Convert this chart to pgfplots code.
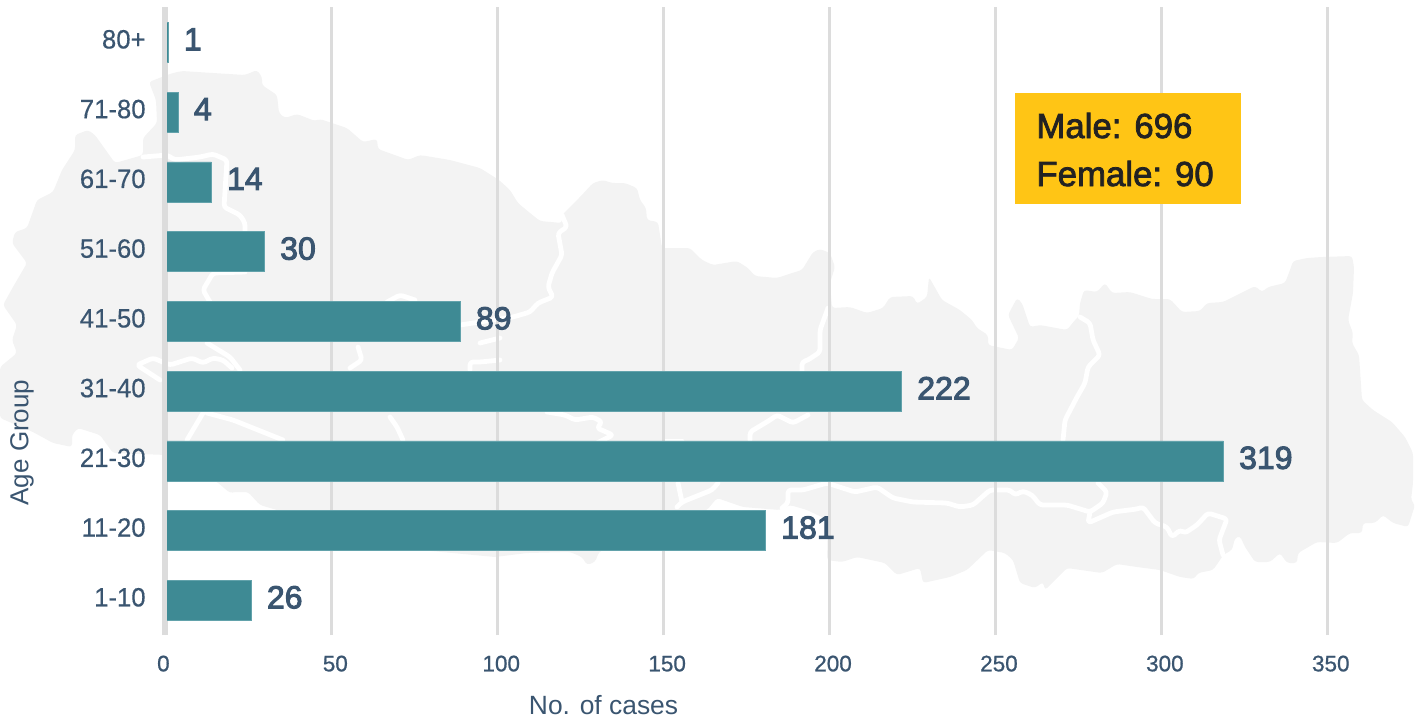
\documentclass[border=0pt]{standalone}
\usepackage{pgfplots}
\usepackage{pgfplotstable}
\pgfplotsset{compat=1.18}
\usepackage{fontspec}
\setmainfont{Liberation Sans}
\newfontfamily\medfont[FakeBold=3]{Liberation Sans}
\newfontfamily\lightmed[FakeBold=0.8]{Liberation Sans}
\newfontfamily\boxfont[FakeBold=2.2]{Liberation Sans}
\newfontfamily\ytickfont[FakeStretch=0.97,FakeBold=0.4]{Liberation Sans}
\definecolor{txt}{HTML}{3A5570}
\definecolor{barc}{HTML}{3E8A94}
\definecolor{barb}{HTML}{62A2AB}
\definecolor{gridc}{HTML}{DCDCDC}
\definecolor{mapc}{HTML}{F3F3F3}
\definecolor{boxc}{HTML}{FFC515}
\definecolor{boxt}{HTML}{222222}
\pgfplotstableread{
idx val
0 26
1 181
2 319
3 222
4 89
5 30
6 14
7 4
8 1
}\agedata
\begin{document}
\begin{tikzpicture}
\path[use as bounding box] (0,0) rectangle (711.5pt,-360pt);
\begin{scope}[x=0.5pt,y=-0.5pt,line join=round,line cap=round,rounded corners=1.5pt]
\fill[mapc] (149,82)--(167,75)--(173,73)--(182,71)--(213,73)--(245,75)--(257,70)--(262,77)--(262,85)--(277,95)--(279,113)--(285,118)--(297,114)--(315,121)--(320,119)--(347,128)--(363,142)--(377,139)--(378,149)--(403,158)--(408,160)--(420,155)--(450,160)--(480,168)--(499,180)--(510,190)--(518,203)--(530,213)--(540,221)--(562,223)--(562,215)--(580,197)--(593,183)--(603,180)--(612,183)--(625,183)--(637,188)--(640,200)--(646,208)--(647,220)--(658,222)--(662,248)--(677,248)--(690,248)--(702,260)--(713,265)--(737,261)--(748,268)--(755,276)--(777,278)--(792,273)--(802,270)--(813,252)--(820,249)--(830,253)--(835,267)--(830,283)--(832,308)--(850,307)--(867,313)--(883,308)--(890,297)--(913,296)--(917,304)--(927,297)--(929,277)--(942,300)--(960,310)--(972,320)--(977,328)--(988,335)--(988,345)--(1012,350)--(1019,338)--(1008,315)--(1017,298)--(1022,303)--(1030,327)--(1040,325)--(1067,330)--(1075,320)--(1079,316)--(1080,303)--(1084,290)--(1097,292)--(1105,283)--(1112,293)--(1130,292)--(1152,299)--(1170,299)--(1182,312)--(1200,311)--(1207,303)--(1223,302)--(1233,297)--(1255,286)--(1262,292)--(1268,287)--(1285,283)--(1290,270)--(1293,261)--(1307,258)--(1322,257)--(1352,256)--(1354,267)--(1353,293)--(1348,320)--(1353,333)--(1352,343)--(1359,355)--(1362,400)--(1373,410)--(1392,422)--(1405,437)--(1413,453)--(1413,483)--(1411,500)--(1415,505)--(1408,527)--(1393,523)--(1383,515)--(1375,523)--(1363,523)--(1362,533)--(1350,533)--(1337,543)--(1317,542)--(1298,553)--(1297,563)--(1287,563)--(1280,553)--(1270,562)--(1255,562)--(1245,547)--(1240,536)--(1235,538)--(1232,550)--(1223,555)--(1220,560)--(1213,570)--(1198,573)--(1194,579)--(1180,577)--(1160,570)--(1137,567)--(1117,564)--(1102,573)--(1067,568)--(1045,590)--(1043,582)--(1035,588)--(1020,583)--(1013,560)--(1005,553)--(988,550)--(967,570)--(950,577)--(923,583)--(920,568)--(897,575)--(885,563)--(857,557)--(842,562)--(827,560)--(828,520)--(807,510)--(790,505)--(780,510)--(743,507)--(717,498)--(707,510)--(640,530)--(599,552)--(595,562)--(587,565)--(582,557)--(570,552)--(527,553)--(495,557)--(400,548)--(277,510)--(260,505)--(248,492)--(235,492)--(230,493)--(217,482)--(167,455)--(113,453)--(100,435)--(78,428)--(72,435)--(72,447)--(53,443)--(33,432)--(0,418)--(0,367)--(17,353)--(12,340)--(17,325)--(3,305)--(13,287)--(27,263)--(12,243)--(15,232)--(27,228)--(37,200)--(53,192)--(62,170)--(75,150)--(75,135)--(88,130)--(95,135)--(115,163)--(143,155)--(143,138)--(157,123)--(156,100)--cycle;
\begin{scope}[draw=white,line width=2.4pt]
\draw (143,157)--(167,155)--(175,160)--(200,157)--(213,154)--(227,160)--(224,207)--(240,215)--(245,223)--(245,233);
\draw (245,272)--(213,273)--(203,290)--(210,302);
\draw (207,343)--(230,357)--(240,370);
\draw (160,380)--(137,365)--(153,358)--(170,365)--(192,358)--(203,363)--(213,358)--(223,360)--(232,368);
\draw (187,440)--(203,413);
\draw (207,413)--(233,420)--(283,440);
\draw (350,368)--(362,360)--(358,347);
\draw (390,417)--(397,427)--(403,440);
\draw (387,302)--(400,295)--(415,300);
\draw (470,370)--(470,362)--(480,362)--(500,360);
\draw (460,325)--(513,317)--(530,312)--(538,303)--(553,297)--(548,287)--(552,273)--(562,255)--(558,233)--(567,227)--(562,215);
\draw (480,343)--(500,338);
\draw (828,308)--(820,330)--(820,352)--(808,360)--(802,362)--(802,372);
\draw (547,412)--(565,415)--(575,420)--(593,417)--(602,422)--(597,428)--(613,435)--(597,443);
\draw (750,440)--(750,432)--(770,420)--(777,415)--(793,423)--(808,415);
\draw (665,441)--(682,441);
\draw (718,483)--(712,490)--(682,502)--(677,507);
\draw (682,502)--(678,483);
\draw (782,508)--(788,503)--(788,490)--(803,490)--(827,483)--(855,492)--(877,487)--(893,498)--(913,502)--(947,503)--(960,507)--(973,505)--(990,490)--(1010,490)--(1015,495)--(1023,491)--(1032,495)--(1040,505)--(1067,505)--(1090,512)--(1103,503)--(1107,492)--(1098,483);
\draw (1090,512)--(1088,523)--(1113,512)--(1137,509)--(1143,507)--(1155,523)--(1167,527)--(1172,537)--(1180,530)--(1185,533)--(1197,525)--(1208,513)--(1227,519)--(1219,540)--(1223,555);
\draw (1080,317)--(1090,323)--(1093,340)--(1100,355)--(1088,367)--(1085,383)--(1077,397)--(1065,420)--(1063,440);
\end{scope}
\end{scope}
\begin{axis}[
  at={(83pt,-317.6pt)},anchor=south west,
  scale only axis,width=621.5pt,height=313.875pt,
  xbar,bar width=20pt,
  xmin=0,xmax=374.6,ymin=-0.5,ymax=8.5,
  clip=false,
  /pgf/number format/assume math mode=true,
  axis line style={draw=none},
  major tick length=0pt,
  tick style={draw=none},
  xmajorgrids,
  grid style={gridc,line width=1.5pt},
  xtick={0,50,100,150,200,250,300,350},
  xticklabels={\makebox[0pt]{\hspace{-6pt}0},50,100,150,200,250,300,350},
  ytick={0,...,8},
  yticklabels={1-10,11-20,21-30,31-40,41-50,51-60,61-70,71-80,80+},
  x tick label style={font=\lightmed\fontsize{11.25pt}{13pt}\selectfont,text=txt,anchor=north,inner sep=0pt,xshift=1.7pt,yshift=-10pt},
  y tick label style={font=\ytickfont\fontsize{13.25pt}{15pt}\selectfont,text=txt,anchor=east,inner sep=0pt,xshift=-10pt,yshift=1.5pt},
  xlabel={No. of cases},
  ylabel={Age Group},
  xlabel style={at={(axis description cs:0.352,-0.1115)},anchor=center,font=\fontsize{13.2pt}{15pt}\selectfont,text=txt,inner sep=0pt},
  ylabel style={at={(axis description cs:-0.1158,0.307)},anchor=center,font=\fontsize{13pt}{15pt}\selectfont,text=txt,inner sep=0pt},
  nodes near coords,
  point meta=x,
  nodes near coords style={font=\medfont\fontsize{16pt}{18pt}\selectfont,text=txt,anchor=west,inner sep=0pt,xshift=7.8pt,yshift=1.5pt},
]
\addplot[fill=barc,draw=barb,line width=0.25pt,xshift=-0.6pt] table[x=val,y=idx] {\agedata};
\draw[gridc,line width=2.5pt] (axis cs:-0.6,-0.5)--(axis cs:-0.6,8.5);
\end{axis}
\begin{scope}[x=0.5pt,y=-0.5pt]
\fill[boxc] (1015,93) rectangle (1241,204);
\node[anchor=base west,inner sep=0pt,text=boxt,font=\boxfont\fontsize{17.4pt}{20pt}\selectfont] at (1036,138) {Male: 696};
\node[anchor=base west,inner sep=0pt,text=boxt,font=\boxfont\fontsize{17.4pt}{20pt}\selectfont] at (1036,186) {Female: 90};
\end{scope}
\end{tikzpicture}
\end{document}
